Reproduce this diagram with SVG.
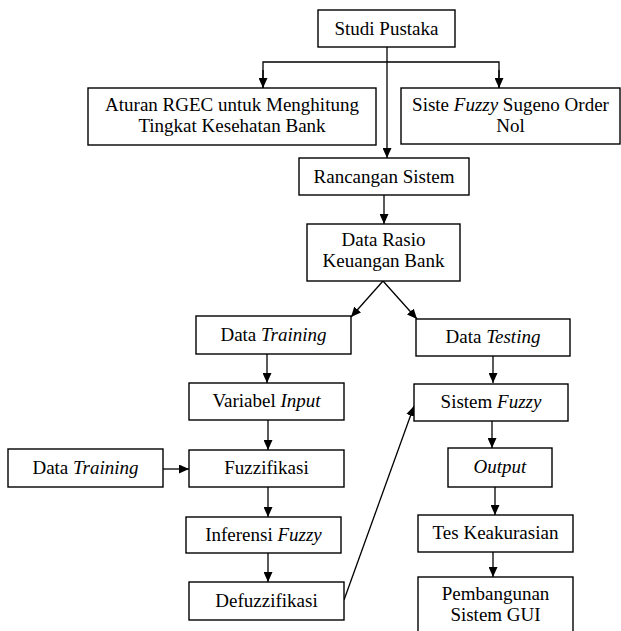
<svg xmlns="http://www.w3.org/2000/svg" width="621" height="631" viewBox="0 0 621 631">
<style>
.box{fill:#fff;stroke:#000;stroke-width:1.4}
.t{font-family:"Liberation Serif","Times New Roman",serif;font-size:19px;fill:#000;text-anchor:middle}
.i{font-style:italic}
.c{fill:none;stroke:#000;stroke-width:1.3}
</style>
<defs>
<marker id="ah" markerUnits="userSpaceOnUse" markerWidth="10" markerHeight="9" refX="10" refY="4.5" orient="auto">
<path d="M0,0 L10,4.5 L0,9 z" fill="#000"/>
</marker>
</defs>
<rect width="621" height="631" fill="#fff"/>
<g id="connectors">
<line class="c" x1="387" y1="47" x2="387" y2="158" marker-end="url(#ah)"/>
<polyline class="c" points="263,88 263,62 499,62 499,88" fill="none"/>
<line class="c" x1="263" y1="70" x2="263" y2="88" marker-end="url(#ah)"/>
<line class="c" x1="499" y1="70" x2="499" y2="88" marker-end="url(#ah)"/>
<line class="c" x1="384" y1="195" x2="384" y2="224" marker-end="url(#ah)"/>
<line class="c" x1="383" y1="281" x2="351" y2="317" marker-end="url(#ah)"/>
<line class="c" x1="383" y1="281" x2="417" y2="319" marker-end="url(#ah)"/>
<line class="c" x1="267" y1="354" x2="267" y2="383" marker-end="url(#ah)"/>
<line class="c" x1="268" y1="420" x2="268" y2="450" marker-end="url(#ah)"/>
<line class="c" x1="163" y1="469" x2="189" y2="469" marker-end="url(#ah)"/>
<line class="c" x1="268" y1="487" x2="268" y2="517" marker-end="url(#ah)"/>
<line class="c" x1="268" y1="553" x2="268" y2="582" marker-end="url(#ah)"/>
<line class="c" x1="344" y1="600" x2="414" y2="406" marker-end="url(#ah)"/>
<line class="c" x1="493" y1="356" x2="493" y2="383" marker-end="url(#ah)"/>
<line class="c" x1="492" y1="421" x2="492" y2="448" marker-end="url(#ah)"/>
<line class="c" x1="495" y1="487" x2="495" y2="515" marker-end="url(#ah)"/>
<line class="c" x1="493" y1="552" x2="493" y2="577" marker-end="url(#ah)"/>
</g>
<g id="studi-pustaka">
<rect class="box" x="318" y="10" width="137" height="37"/>
<text class="t" x="386.5" y="34.5">Studi Pustaka</text>
</g>
<g id="aturan-rgec">
<rect class="box" x="88" y="88" width="288" height="57"/>
<text class="t" x="232" y="111">Aturan RGEC untuk Menghitung</text>
<text class="t" x="232" y="132">Tingkat Kesehatan Bank</text>
</g>
<g id="siste-fuzzy">
<rect class="box" x="401" y="88" width="219" height="56"/>
<text class="t" x="510.5" y="111"><tspan>Siste </tspan><tspan class="i">Fuzzy</tspan><tspan> Sugeno Order</tspan></text>
<text class="t" x="510.5" y="132">Nol</text>
</g>
<g id="rancangan-sistem">
<rect class="box" x="299" y="158" width="170" height="37"/>
<text class="t" x="384" y="182.5">Rancangan Sistem</text>
</g>
<g id="data-rasio">
<rect class="box" x="307" y="224" width="153" height="57"/>
<text class="t" x="383.5" y="246">Data Rasio</text>
<text class="t" x="383.5" y="267">Keuangan Bank</text>
</g>
<g id="data-training">
<rect class="box" x="196" y="316" width="155" height="38"/>
<text class="t" x="273.5" y="341"><tspan>Data </tspan><tspan class="i">Training</tspan></text>
</g>
<g id="data-testing">
<rect class="box" x="416" y="319" width="154" height="37"/>
<text class="t" x="493" y="343"><tspan>Data </tspan><tspan class="i">Testing</tspan></text>
</g>
<g id="variabel-input">
<rect class="box" x="189" y="383" width="155" height="37"/>
<text class="t" x="266.5" y="407"><tspan>Variabel </tspan><tspan class="i">Input</tspan></text>
</g>
<g id="sistem-fuzzy">
<rect class="box" x="414" y="384" width="154" height="37"/>
<text class="t" x="491" y="408"><tspan>Sistem </tspan><tspan class="i">Fuzzy</tspan></text>
</g>
<g id="data-training-2">
<rect class="box" x="8" y="449" width="155" height="38"/>
<text class="t" x="85.5" y="474"><tspan>Data </tspan><tspan class="i">Training</tspan></text>
</g>
<g id="fuzzifikasi">
<rect class="box" x="189" y="450" width="155" height="37"/>
<text class="t" x="266.5" y="474">Fuzzifikasi</text>
</g>
<g id="output">
<rect class="box" x="448" y="448" width="104" height="39"/>
<text class="t" x="500" y="473" font-style="italic">Output</text>
</g>
<g id="inferensi-fuzzy">
<rect class="box" x="186" y="517" width="155" height="36"/>
<text class="t" x="263.5" y="541"><tspan>Inferensi </tspan><tspan class="i">Fuzzy</tspan></text>
</g>
<g id="tes-keakurasian">
<rect class="box" x="418" y="515" width="155" height="37"/>
<text class="t" x="495.5" y="539">Tes Keakurasian</text>
</g>
<g id="defuzzifikasi">
<rect class="box" x="189" y="582" width="155" height="38"/>
<text class="t" x="266.5" y="607">Defuzzifikasi</text>
</g>
<g id="pembangunan">
<rect class="box" x="418" y="577" width="155" height="70"/>
<text class="t" x="495.5" y="600">Pembangunan</text>
<text class="t" x="495.5" y="621">Sistem GUI</text>
</g>
</svg>
